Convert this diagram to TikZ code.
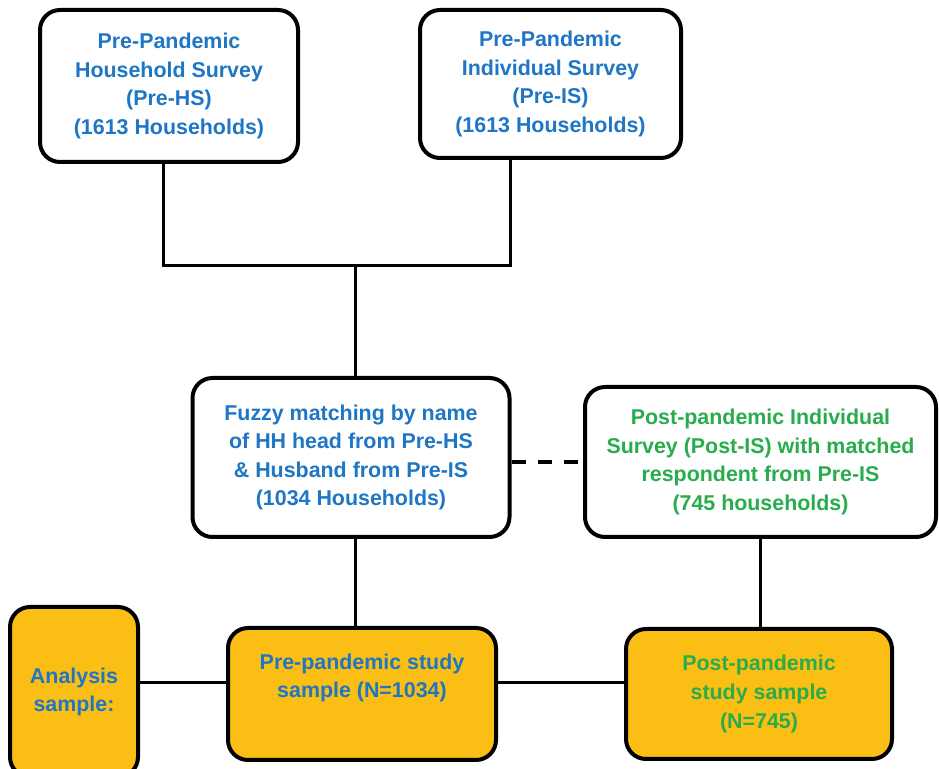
\documentclass[tikz,border=0pt]{standalone}
\usepackage{fontspec}
\setmainfont{Liberation Sans}
\usepackage[usenames,svgnames,dvipsnames]{xcolor}
\definecolor{preblue}{RGB}{30,118,196}
\definecolor{postgreen}{RGB}{40,172,76}
\definecolor{gold}{RGB}{251,190,20}

\begin{document}
\begin{tikzpicture}[x=0.5pt,y=-0.5pt,
    box/.style={draw,line width=2pt,rounded corners=10pt,align=center,
      inner sep=0pt,font=\bfseries\fontsize{10.7}{14.3}\selectfont},
    prebox/.style={box,fill=white,text=preblue},
    postbox/.style={box,fill=white,text=postgreen},
    samplebox/.style={box,fill=gold},
    link/.style={line width=1.5pt}]
      % Fix the page to the picture size
      \clip (0,0) rectangle (939,769);

      % Draw the survey boxes
      \node[prebox,minimum width=129pt,minimum height=76pt] (hs) at (169,86)
        {Pre-Pandemic\\Household Survey\\(Pre-HS)\\(1613 Households)};
      \node[prebox,minimum width=130.5pt,minimum height=74pt] (is) at (550.5,84)
        {Pre-Pandemic\\Individual Survey\\(Pre-IS)\\(1613 Households)};
      \node[prebox,minimum width=158.5pt,minimum height=79.5pt] (fuzzy) at (351,457.5)
        {Fuzzy matching by name\\of HH head from Pre-HS\\\& Husband from Pre-IS\\(1034 Households)};
      \node[postbox,minimum width=175.5pt,minimum height=75pt] (postis) at (760.5,462)
        {Post-pandemic Individual\\Survey (Post-IS) with matched\\respondent from Pre-IS\\(745 households)};

      % Draw the sample boxes
      \node[samplebox,text=preblue,minimum width=64pt,minimum height=85pt] (analysis) at (74,692)
        {Analysis\\sample:};
      \node[samplebox,text=preblue,minimum width=134pt,minimum height=66pt] (presample) at (362,694)
        {Pre-pandemic study\\sample (N=1034)\\[4pt]\mbox{}};
      \node[samplebox,text=postgreen,minimum width=133pt,minimum height=65pt] (postsample) at (759,694)
        {Post-pandemic\\study sample\\(N=745)};

      % Draw the joining lines
      \coordinate (join) at (355,266);
      \draw[link] ([xshift=-3pt]hs.south) |- (join) -| ([xshift=-20.25pt]is.south);
      \draw[link] (join) -- (join |- fuzzy.north);
      \draw[link] (join |- fuzzy.south) -- (join |- presample.north);
      \draw[link] (postis.south) -- (postis.south |- postsample.north);

      % Draw the dashed link
      \draw[line width=2pt,dash pattern=on 7pt off 6pt] (postis.west -| fuzzy.east) -- (postis.west);

      % Draw the sample row
      \draw[link] ([yshift=5.5pt]presample.west -| analysis.east) -- ([yshift=5.5pt]presample.west);
      \draw[link] ([yshift=5.5pt]presample.east) -- ([yshift=5.5pt]presample.east -| postsample.west);
    \end{tikzpicture}
\end{document}
